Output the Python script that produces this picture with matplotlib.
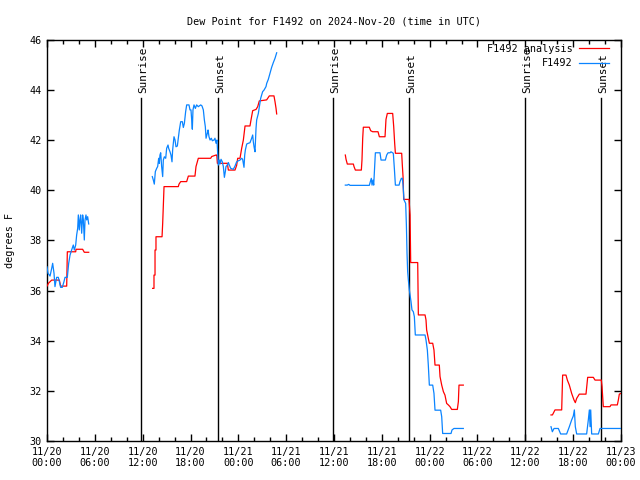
import matplotlib
matplotlib.use("Agg")
import matplotlib.pyplot as plt
from matplotlib.ticker import MultipleLocator
import numpy as np

title = "Dew Point for F1492 on 2024-Nov-20 (time in UTC)"
ylabel = "degrees F"
series_names = ["F1492 analysis", "F1492"]
tick_hours = [0, 6, 12, 18, 24, 30, 36, 42, 48, 54, 60, 66, 72]
tick_labels = ["11/20\n00:00", "11/20\n06:00", "11/20\n12:00", "11/20\n18:00",
               "11/21\n00:00", "11/21\n06:00", "11/21\n12:00", "11/21\n18:00",
               "11/22\n00:00", "11/22\n06:00", "11/22\n12:00", "11/22\n18:00",
               "11/23\n00:00"]
sunrise_hours = [11.8, 35.85, 59.95]
sunset_hours = [21.45, 45.4, 69.5]

# analysis (red) segments: hours since 11/20 00:00, values
ana_t1 = [0.0, 0.2, 0.59, 1.55, 1.71, 2.47, 2.55, 3.6, 3.64, 4.47, 4.68, 5.23]
ana_v1 = [36.18, 36.3, 36.42, 36.42, 36.18, 36.18, 37.55, 37.55, 37.65, 37.65, 37.53, 37.53]
ana_t2 = [13.25, 13.42, 13.42, 13.55, 13.55, 13.67, 13.67, 14.43, 14.51, 14.68, 16.47, 16.56,
          16.77, 17.52, 17.73, 18.56, 18.69, 18.98, 20.53, 20.66, 21.2, 21.3, 21.37, 22.62,
          22.75, 23.58, 23.79, 23.92, 24.21, 24.42, 24.63, 24.84, 25.46, 25.59, 25.8, 26.22,
          26.43, 26.63, 27.55, 27.89, 28.47, 28.6, 28.73, 28.81]
ana_v2 = [36.09, 36.09, 36.62, 36.62, 37.62, 37.62, 38.15, 38.15, 38.68, 40.15, 40.15, 40.25,
          40.35, 40.35, 40.57, 40.57, 40.95, 41.28, 41.28, 41.35, 41.41, 41.41, 41.08, 41.08,
          40.81, 40.81, 41.0, 41.28, 41.28, 41.68, 42.01, 42.57, 42.57, 42.81, 43.18, 43.23,
          43.34, 43.57, 43.61, 43.77, 43.77, 43.54, 43.27, 43.05]
ana_t3 = [37.42, 37.51, 37.67, 38.43, 38.51, 38.68, 39.43, 39.51, 39.6, 39.68, 40.43, 40.6,
          40.85, 41.52, 41.69, 42.4, 42.52, 42.69, 43.36, 43.49, 43.61, 43.7, 44.49, 44.57,
          44.66, 44.74, 45.41, 45.54, 45.62, 46.5, 46.58, 47.42, 47.54, 47.62, 47.83, 47.96,
          48.38, 48.54, 48.67, 49.21, 49.3, 49.51, 49.72, 49.92, 50.13, 50.34, 50.55, 50.76,
          51.47, 51.6, 51.68, 52.22]
ana_v3 = [41.41, 41.24, 41.05, 41.05, 40.95, 40.81, 40.81, 41.21, 42.08, 42.52, 42.52, 42.38,
          42.34, 42.34, 42.14, 42.14, 42.83, 43.07, 43.07, 42.54, 41.88, 41.48, 41.48, 41.01,
          40.55, 39.64, 39.64, 39.02, 37.12, 37.12, 35.03, 35.03, 34.83, 34.43, 34.1, 33.9,
          33.9, 33.63, 33.03, 33.03, 32.57, 32.23, 31.97, 31.83, 31.5, 31.44, 31.37, 31.26,
          31.26, 31.57, 32.23, 32.23]
ana_t4 = [63.22, 63.4, 63.72, 64.56, 64.68, 65.1, 65.27, 65.52, 65.81, 66.1, 66.27, 66.44,
          66.77, 67.61, 67.82, 68.53, 68.74, 69.53, 69.62, 69.78, 70.62, 70.75, 71.54, 71.67,
          71.79, 72.0]
ana_v4 = [31.04, 31.04, 31.24, 31.24, 32.63, 32.63, 32.43, 32.23, 31.9, 31.64, 31.53, 31.7,
          31.87, 31.87, 32.54, 32.54, 32.43, 32.43, 32.17, 31.37, 31.37, 31.44, 31.44, 31.64,
          31.87, 31.9]

# observations (blue) segments
obs_t1 = [0.0, 0.13, 0.38, 0.59, 0.71, 0.88, 1.0, 1.21, 1.42, 1.55, 1.71, 1.92, 2.13, 2.26,
          2.55, 2.72, 2.89, 3.09, 3.3, 3.43, 3.6, 3.72, 3.85, 3.93, 4.05, 4.14, 4.22, 4.35,
          4.47, 4.56, 4.68, 4.77, 4.89, 4.98, 5.1, 5.23]
obs_v1 = [36.95, 36.69, 36.58, 36.89, 37.09, 36.69, 36.16, 36.53, 36.53, 36.36, 36.13, 36.13,
          36.36, 36.53, 36.53, 37.09, 37.42, 37.62, 37.82, 37.62, 37.82, 38.22, 38.49, 39.02,
          38.42, 38.82, 39.02, 38.29, 39.02, 38.82, 38.02, 38.82, 39.02, 38.82, 38.95, 38.66]
obs_t2 = [13.21, 13.34, 13.46, 13.59, 13.76, 13.88, 14.01, 14.09, 14.17, 14.26, 14.38, 14.51,
          14.59, 14.72, 14.89, 15.01, 15.18, 15.26, 15.43, 15.55, 15.68, 15.76, 15.93, 16.06,
          16.18, 16.35, 16.47, 16.6, 16.77, 16.98, 17.1, 17.23, 17.39, 17.52, 17.81, 17.94,
          18.06, 18.15, 18.23, 18.31, 18.44, 18.61, 18.77, 18.98, 19.28, 19.44, 19.61, 19.74,
          19.86, 19.95, 20.11, 20.2, 20.32, 20.45, 20.61, 20.74, 20.95, 21.07, 21.2, 21.32,
          21.41, 21.49, 21.62, 21.7, 21.83, 21.99, 22.12, 22.25, 22.37, 22.45, 22.62, 22.75,
          22.87, 23.04, 23.37, 23.58, 23.79, 24.0, 24.21, 24.42, 24.54, 24.71, 24.8, 24.88,
          25.05, 25.26, 25.46, 25.67, 25.8, 25.88, 25.97, 26.09, 26.22, 26.3, 26.51, 26.64,
          26.8, 27.05, 27.22, 27.47, 27.56, 27.76, 27.97, 28.18, 28.39, 28.6, 28.81]
obs_v2 = [40.55, 40.41, 40.25, 40.75, 40.88, 40.95, 41.28, 41.08, 41.41, 41.5, 40.95, 40.55,
          41.21, 41.34, 41.28, 41.68, 41.81, 41.68, 41.54, 41.41, 41.14, 41.61, 42.14, 42.01,
          41.74, 41.77, 42.08, 42.41, 42.74, 42.74, 42.51, 42.67, 43.14, 43.41, 43.41, 43.21,
          43.21, 42.81, 42.44, 43.21, 43.41, 43.27, 43.41, 43.34, 43.41, 43.37, 43.21, 42.81,
          42.54, 42.08, 42.28, 42.41, 42.14, 42.01, 42.08, 41.98, 42.01, 42.08, 41.88, 42.01,
          41.48, 41.01, 41.21, 41.05, 41.24, 41.14, 40.95, 40.52, 40.75, 40.95, 41.01, 41.11,
          41.01, 40.88, 40.84, 40.97, 41.14, 41.18, 41.21, 41.28, 41.24, 40.92, 41.41, 41.61,
          41.85, 41.88, 41.9, 42.08, 42.21, 41.94, 41.74, 41.54, 42.48, 42.81, 43.07, 43.34,
          43.67, 43.94, 44.0, 44.14, 44.27, 44.43, 44.67, 44.91, 45.1, 45.27, 45.49]
obs_t3 = [37.42, 37.67, 37.84, 38.01, 40.43, 40.56, 40.68, 40.77, 40.89, 40.98, 41.1, 41.19,
          41.77, 41.9, 42.44, 42.61, 42.78, 43.03, 43.15, 43.44, 43.57, 43.7, 44.16, 44.28,
          44.45, 44.57, 44.66, 44.78, 44.99, 45.08, 45.16, 45.24, 45.33, 45.45, 45.66, 45.78,
          45.95, 46.08, 46.2, 47.42, 47.54, 47.71, 47.83, 47.96, 48.38, 48.54, 48.67, 49.38,
          49.51, 49.63, 50.68, 50.8, 51.05, 52.22]
obs_v3 = [40.21, 40.21, 40.24, 40.2, 40.2, 40.35, 40.48, 40.21, 40.41, 40.21, 40.95, 41.5,
          41.5, 41.21, 41.21, 41.41, 41.5, 41.5, 41.54, 41.48, 40.88, 40.21, 40.21, 40.35,
          40.48, 40.48, 40.21, 39.62, 39.48, 38.62, 37.49, 36.76, 36.42, 36.02, 35.56, 35.23,
          35.16, 34.96, 34.23, 34.23, 34.03, 33.63, 33.03, 32.23, 32.23, 31.9, 31.23, 31.23,
          30.97, 30.3, 30.3, 30.44, 30.5, 30.5]
obs_t4 = [63.22, 63.39, 63.6, 64.14, 64.43, 65.18, 65.52, 65.81, 66.02, 66.15, 66.27, 66.44,
          67.69, 67.9, 68.03, 68.12, 68.2, 68.32, 69.16, 69.37, 72.0]
obs_v4 = [30.57, 30.37, 30.5, 30.5, 30.28, 30.28, 30.57, 30.84, 31.0, 31.24, 30.57, 30.28,
          30.28, 30.84, 31.24, 30.57, 31.24, 30.28, 30.28, 30.5, 30.5]

ana_segments = [(ana_t1, ana_v1), (ana_t2, ana_v2), (ana_t3, ana_v3), (ana_t4, ana_v4)]
obs_segments = [(obs_t1, obs_v1), (obs_t2, obs_v2), (obs_t3, obs_v3), (obs_t4, obs_v4)]

RED = "#ff0000"
BLUE = "#0a84ff"
FONT = "DejaVu Sans Mono"
FS = 7.3

fig = plt.figure(figsize=(6.4, 4.8), dpi=100)
ax = fig.add_axes([47 / 640, 1 - 441 / 480, (621 - 47) / 640, (441 - 40) / 480])

for i, (t, v) in enumerate(ana_segments):
    ax.plot(t, v, color=RED, lw=0.9, label=series_names[0] if i == 0 else None, zorder=3)
for i, (t, v) in enumerate(obs_segments):
    ax.plot(t, v, color=BLUE, lw=0.9, label=series_names[1] if i == 0 else None, zorder=3)

line_top = 43.7
text_y = 43.88
for h in sunrise_hours:
    ax.plot([h, h], [30, line_top], color="black", lw=1.0, zorder=2)
    ax.text(h + 0.25, text_y, "Sunrise", rotation=90, ha="center", va="bottom",
            fontsize=FS + 0.6, family=FONT)
for h in sunset_hours:
    ax.plot([h, h], [30, line_top], color="black", lw=1.0, zorder=2)
    ax.text(h + 0.25, text_y, "Sunset", rotation=90, ha="center", va="bottom",
            fontsize=FS + 0.6, family=FONT)

ax.set_xlim(0, 72)
ax.set_ylim(30, 46)
ax.set_xticks(tick_hours)
ax.set_xticklabels(tick_labels, family=FONT, fontsize=FS)
ax.xaxis.set_minor_locator(MultipleLocator(2))
ax.set_yticks(np.arange(30, 47, 2))
ax.set_yticklabels([str(v) for v in range(30, 47, 2)], family=FONT, fontsize=FS)
ax.tick_params(which="major", direction="in", length=5, width=1, top=True, right=True, pad=4)
ax.tick_params(which="minor", direction="in", length=3, width=1, top=True, right=True)
for s in ax.spines.values():
    s.set_linewidth(1.0)

ax.set_title(title, family=FONT, fontsize=FS, pad=11)
ax.set_ylabel(ylabel, family=FONT, fontsize=FS, labelpad=10)

leg = ax.legend(loc="upper right", bbox_to_anchor=(1 - 8 / 574, 1.0), frameon=False,
                markerfirst=False, prop={"family": FONT, "size": FS}, handlelength=3.0,
                handletextpad=0.6, borderaxespad=0.15, labelspacing=0.45,
                borderpad=0.2)
for t in leg.get_texts():
    t.set_ha("right")
leg.set_zorder(5)

fig.savefig("out.png", dpi=100)
